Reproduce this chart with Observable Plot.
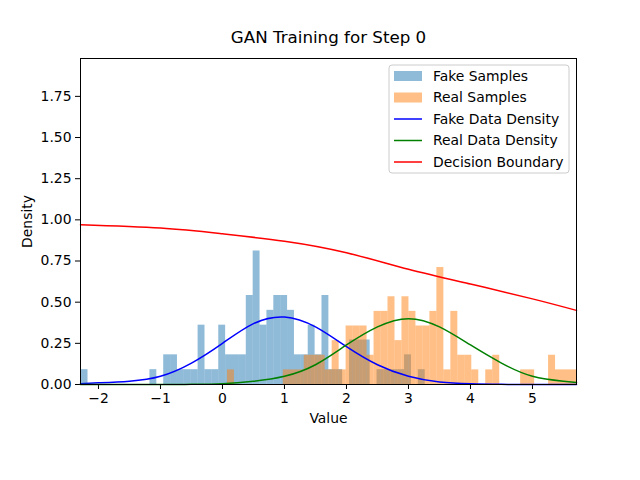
<!DOCTYPE html>
<html>
<head>
<meta charset="utf-8">
<script src="https://cdn.jsdelivr.net/npm/d3@7"></script>
<script src="https://cdn.jsdelivr.net/npm/@observablehq/plot@0.6"></script>
<style>
  body { margin: 0; padding: 0; background: #fff; }
  svg { font-family: "DejaVu Sans", sans-serif; }
</style>
</head>
<body>
<div id="chart"></div>
<script>
  // histogram bins: start, width, counts (100 samples each)
  let fakeStart = -2.28, fakeWidth = 0.111
  let fakeCounts = [1,0,0,0,0,0,0,0,0,0, 1,0,2,2,1,1,1,4,1,1, 4,2,2,2,6,9,4,5,6,6, 5,2,2,4,2,6,1,1,0,3, 3,3,0,1,1,1,1,2,0,1]
  let realStart = 0.08, realWidth = 0.1126
  let realCounts = [1,0,0,0,0,0,0,0,1,1, 1,2,2,2,1,3,1,4,4,4, 2,5,5,6,3,6,5,4,4,5, 8,1,5,2,2,1,0,1,2,0, 0,0,1,1,0,0,2,1,1,1]

  // curves
  let curveX = [-2.29,-2,-1.5,-1,-0.5,0,0.5,1,1.5,2,2.5,3,3.5,4,4.5,5,5.5,5.71]
  let fakeDensity = [0.005,0.01,0.02,0.05,0.13,0.25,0.37,0.41,0.35,0.23,0.12,0.05,0.015,0.004,0.001,0,0,0]
  let realDensity = [0,0,0,0,0.001,0.005,0.02,0.05,0.12,0.24,0.35,0.40,0.35,0.24,0.13,0.05,0.02,0.012]
  let boundaryX = [-2.29,-1,0,1,2,3,4,5,5.71]
  let boundary = [0.97,0.95,0.915,0.87,0.80,0.70,0.61,0.52,0.45]

  const bins = (start, w, counts) => counts.map((c, i) => ({x1: start + i*w, x2: start + (i+1)*w, y: c/(100*w)})).filter(d => d.y > 0)
  const fake = bins(fakeStart, fakeWidth, fakeCounts)
  const real = bins(realStart, realWidth, realCounts)
  const line = (xs, ys) => xs.map((x, i) => ({x, y: ys[i]}))

  const blue = "#1f77b4", orange = "#ff7f0e"

  const chart = Plot.plot({
    width: 640, height: 480,
    marginLeft: 80, marginRight: 64, marginTop: 58, marginBottom: 96,
    style: {fontSize: "13.9px", fontFamily: "DejaVu Sans", color: "#000", background: "#fff"},
    x: {domain: [-2.29, 5.71], ticks: [-2,-1,0,1,2,3,4,5], tickFormat: d => d < 0 ? "\u2212" + (-d) : d, label: "Value", labelAnchor: "center", labelArrow: "none", tickSize: 5, labelOffset: 38},
    y: {domain: [0, 1.98], ticks: d3.range(0, 1.76, 0.25), tickFormat: d3.format(".2f"), label: "Density", labelAnchor: "center", labelArrow: "none", tickSize: 5, labelOffset: 58},
    marks: [
      Plot.rectY(fake, {x1: "x1", x2: "x2", y: "y", fill: blue, fillOpacity: 0.5, inset: 0}),
      Plot.rectY(real, {x1: "x1", x2: "x2", y: "y", fill: orange, fillOpacity: 0.5, inset: 0}),
      Plot.line(line(curveX, fakeDensity), {x: "x", y: "y", stroke: "blue", strokeWidth: 1.5, curve: "natural"}),
      Plot.line(line(curveX, realDensity), {x: "x", y: "y", stroke: "green", strokeWidth: 1.5, curve: "natural"}),
      Plot.line(line(boundaryX, boundary), {x: "x", y: "y", stroke: "red", strokeWidth: 1.5, curve: "natural"}),
      Plot.frame({stroke: "#000", strokeWidth: 1}),
      Plot.text(["GAN Training for Step 0"], {frameAnchor: "top", dy: -16, fontSize: 16.7, lineAnchor: "bottom"})
    ]
  })
  document.querySelector("#chart").append(chart)

  // legend, drawn in the top right corner like matplotlib
  const svg = d3.select(chart)
  const items = [
    {label: "Fake Samples", type: "rect", color: blue},
    {label: "Real Samples", type: "rect", color: orange},
    {label: "Fake Data Density", type: "line", color: "blue"},
    {label: "Real Data Density", type: "line", color: "green"},
    {label: "Decision Boundary", type: "line", color: "red"}
  ]
  const lg = svg.append("g").attr("transform", "translate(389,65)")
  lg.append("rect").attr("width", 180).attr("height", 108).attr("rx", 3)
    .attr("fill", "#fff").attr("fill-opacity", 0.8).attr("stroke", "#ccc")
  items.forEach((d, i) => {
    const y = 11 + i*21.5
    if (d.type === "rect") lg.append("rect").attr("x", 5).attr("y", y - 5).attr("width", 28).attr("height", 10).attr("fill", d.color).attr("fill-opacity", 0.5)
    else lg.append("line").attr("x1", 5).attr("x2", 33).attr("y1", y).attr("y2", y).attr("stroke", d.color).attr("stroke-width", 1.5)
    lg.append("text").attr("x", 44).attr("y", y).attr("dy", "0.35em").attr("text-anchor", "start").attr("font-size", 13.9).text(d.label)
  })
</script>
</body>
</html>
